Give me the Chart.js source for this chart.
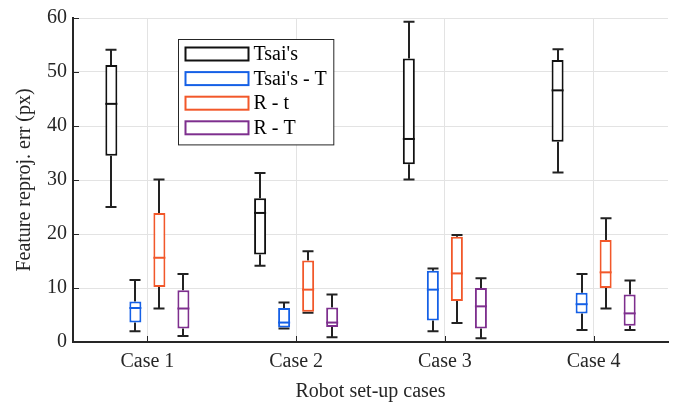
<!DOCTYPE html>
<html>
<head>
<meta charset="utf-8">
<script src="https://cdn.jsdelivr.net/npm/chart.js@4.4.1/dist/chart.umd.min.js"></script>
<style>
  html, body { margin: 0; padding: 0; background: #ffffff; }
  #wrap { width: 677px; height: 404px; }
</style>
</head>
<body>
<div id="wrap"><canvas id="c" width="677" height="404"></canvas></div>
<script>
// Robot set-up cases on the x axis
const cases = ['Case 1', 'Case 2', 'Case 3', 'Case 4'];

// Box statistics per case: [lower whisker, Q1, median, Q3, upper whisker]
const tsai = [
  [25.0, 34.5, 44.1, 51.3, 54.1],
  [14.1, 16.2, 23.9, 26.6, 31.3],
  [30.1, 32.9, 37.6, 52.5, 59.3],
  [31.4, 37.1, 46.6, 52.2, 54.2]
];
const tsaiT = [
  [2.0, 3.6, 6.3, 7.5, 11.5],
  [2.5, 2.7, 3.6, 6.3, 7.3],
  [2.0, 4.0, 9.7, 13.2, 13.6],
  [2.2, 5.3, 7.0, 9.1, 12.6]
];
const rSmallT = [
  [6.2, 10.2, 15.6, 23.9, 30.1],
  [5.4, 5.6, 9.7, 15.1, 16.8],
  [3.5, 7.6, 12.7, 19.5, 19.8],
  [6.2, 10.0, 12.9, 18.9, 22.9]
];
const rBigT = [
  [1.1, 2.5, 6.2, 9.6, 12.6],
  [0.9, 2.8, 3.6, 6.4, 8.8],
  [0.7, 2.5, 6.6, 10.0, 11.8],
  [2.2, 3.0, 5.3, 8.8, 11.4]
];

const seriesNames = ["Tsai's", "Tsai's - T", 'R - t', 'R - T'];
const seriesStats = [tsai, tsaiT, rSmallT, rBigT];
const seriesColors = ['#111111', '#1560e6', '#f2582a', '#7e2f8e'];

// y axis tick values
const yTicks = [0, 10, 20, 30, 40, 50, 60];

const FONT = "'Liberation Serif', 'Times New Roman', serif";
const INK = '#262626';

const datasets = seriesNames.map((name, k) => ({
  label: name,
  data: seriesStats[k].map(s => [s[1], s[3]]),
  stats: seriesStats[k],
  backgroundColor: '#ffffff',
  borderColor: seriesColors[k],
  borderWidth: 2,
  borderSkipped: false,
  categoryPercentage: 0.646,
  barPercentage: 0.5
}));

// Whiskers (behind the boxes) and medians (on top)
const boxPlotParts = {
  id: 'boxPlotParts',
  beforeDatasetsDraw(chart) {
    const { ctx } = chart;
    const y = chart.scales.y;
    ctx.save();
    ctx.strokeStyle = '#222222';
    ctx.lineWidth = 2;
    chart.data.datasets.forEach((ds, di) => {
      chart.getDatasetMeta(di).data.forEach((bar, i) => {
        const s = ds.stats[i];
        const x = Math.round(bar.x);
        const half = (bar.width - 1) / 2;
        const yLo = y.getPixelForValue(s[0]);
        const yQ1 = y.getPixelForValue(s[1]);
        const yQ3 = y.getPixelForValue(s[3]);
        const yHi = y.getPixelForValue(s[4]);
        ctx.beginPath();
        ctx.moveTo(x, yHi); ctx.lineTo(x, yQ3);
        ctx.moveTo(x, yQ1); ctx.lineTo(x, yLo);
        ctx.moveTo(x - half, yHi); ctx.lineTo(x + half, yHi);
        ctx.moveTo(x - half, yLo); ctx.lineTo(x + half, yLo);
        ctx.stroke();
      });
    });
    ctx.restore();
  },
  afterDatasetsDraw(chart) {
    const { ctx } = chart;
    const y = chart.scales.y;
    ctx.save();
    ctx.lineWidth = 2;
    chart.data.datasets.forEach((ds, di) => {
      ctx.strokeStyle = ds.borderColor;
      chart.getDatasetMeta(di).data.forEach((bar, i) => {
        const ym = y.getPixelForValue(ds.stats[i][2]);
        ctx.beginPath();
        ctx.moveTo(bar.x - bar.width / 2, ym);
        ctx.lineTo(bar.x + bar.width / 2, ym);
        ctx.stroke();
      });
    });
    ctx.restore();
  }
};

// Inward tick marks on both axes
const innerTicks = {
  id: 'innerTicks',
  afterDatasetsDraw(chart) {
    const { ctx, chartArea } = chart;
    const xs = chart.scales.x, ys = chart.scales.y;
    ctx.save();
    ctx.strokeStyle = INK;
    ctx.lineWidth = 1;
    ctx.beginPath();
    ys.ticks.forEach((t, i) => {
      const py = Math.round(ys.getPixelForTick(i)) + 0.5;
      ctx.moveTo(chartArea.left, py);
      ctx.lineTo(chartArea.left + 6, py);
    });
    xs.ticks.forEach((t, i) => {
      const px = Math.round(xs.getPixelForTick(i)) + 0.5;
      ctx.moveTo(px, chartArea.bottom);
      ctx.lineTo(px, chartArea.bottom - 6);
    });
    ctx.stroke();
    ctx.restore();
  }
};

// Boxed legend inside the plot area
const boxLegend = {
  id: 'boxLegend',
  afterDraw(chart) {
    const { ctx, chartArea } = chart;
    const left = chartArea.left + 105.5;
    const top = chartArea.top + 21.5;
    const rowH = 24.6;
    const swW = 63, swH = 13;
    ctx.save();
    ctx.font = '20px ' + FONT;
    const textW = Math.max(...chart.data.datasets.map(d => ctx.measureText(d.label).width));
    const width = 7 + swW + 5 + textW + 7;
    const height = rowH * chart.data.datasets.length + 7;
    ctx.fillStyle = '#ffffff';
    ctx.fillRect(left, top, width, height);
    ctx.strokeStyle = INK;
    ctx.lineWidth = 1;
    ctx.strokeRect(left, top, width, height);
    chart.data.datasets.forEach((d, i) => {
      const cy = top + 14.5 + i * rowH;
      ctx.strokeStyle = d.borderColor;
      ctx.lineWidth = 2;
      ctx.strokeRect(left + 7, cy - swH / 2, swW, swH);
      ctx.fillStyle = '#000000';
      ctx.textBaseline = 'middle';
      ctx.textAlign = 'left';
      ctx.fillText(d.label, left + 7 + swW + 5, cy + 1);
    });
    ctx.restore();
  }
};

new Chart(document.getElementById('c'), {
  type: 'bar',
  data: { labels: cases, datasets },
  plugins: [boxPlotParts, innerTicks, boxLegend],
  options: {
    responsive: false,
    animation: false,
    devicePixelRatio: 1,
    layout: { padding: { top: 15, right: 9, left: 0, bottom: 0 } },
    plugins: {
      legend: { display: false },
      tooltip: { enabled: false }
    },
    scales: {
      x: {
        afterFit(scale) { scale.height = 62; },
        grid: { offset: false, color: '#e3e3e3', lineWidth: 1, drawTicks: false },
        border: { color: INK, width: 2 },
        ticks: { color: INK, font: { family: FONT, size: 20 }, padding: 8 },
        title: {
          display: true, text: 'Robot set-up cases', color: INK,
          font: { family: FONT, size: 20, lineHeight: 1.2 }, padding: { top: 0, bottom: 0 }
        }
      },
      y: {
        min: 0, max: 60,
        afterFit(scale) { scale.width = 73; },
        afterBuildTicks(scale) { scale.ticks = yTicks.map(v => ({ value: v })); },
        grid: { color: '#e3e3e3', lineWidth: 1, drawTicks: false },
        border: { color: INK, width: 2 },
        ticks: { color: INK, font: { family: FONT, size: 20 }, padding: 6 },
        title: {
          display: true, text: 'Feature reproj. err (px)', color: INK,
          font: { family: FONT, size: 20, lineHeight: 1.2 }, padding: { top: 13, bottom: 0 }
        }
      }
    }
  }
});
</script>
</body>
</html>
